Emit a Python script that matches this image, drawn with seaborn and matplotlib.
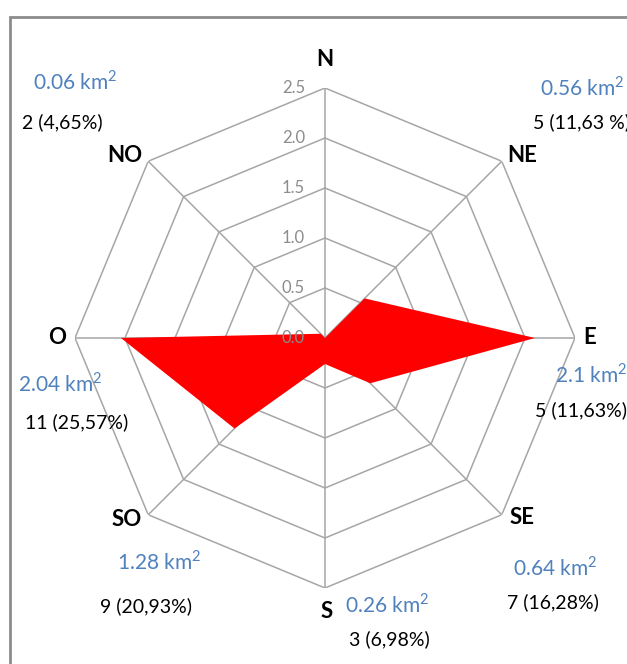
import numpy as np
import matplotlib.pyplot as plt
import matplotlib.patches as mpatches
import seaborn as sns

# data
directions = ["N", "NE", "E", "SE", "S", "SO", "O", "NO"]
areas = [0.0, 0.56, 2.1, 0.64, 0.26, 1.28, 2.04, 0.06]
area_labels = ["", "0.56", "2.1", "0.64", "0.26", "1.28", "2.04", "0.06"]
count_labels = ["", "5 (11,63 %)", "5 (11,63%)", "7 (16,28%)", "3 (6,98%)", "9 (20,93%)", "11 (25,57%)", "2 (4,65%)"]
rings = [0.5, 1.0, 1.5, 2.0, 2.5]
ring_labels = ["0.0", "0.5", "1.0", "1.5", "2.0", "2.5"]

sns.set_theme(style="white")
plt.rcParams["font.family"] = ["Lato", "DejaVu Sans"]
plt.rcParams["mathtext.fontset"] = "custom"
plt.rcParams["mathtext.rm"] = "Lato"

W, H = 627, 664
fig = plt.figure(figsize=(W / 100, H / 100), dpi=100)
ax = fig.add_axes([75 / W, (H - 338 - 250) / H, 500 / W, 500 / H], projection="polar")
ax.set_theta_zero_location("N")
ax.set_theta_direction(-1)
ax.set_ylim(0, 2.5)
ax.grid(False)
ax.set_xticks([])
ax.set_yticks([])
ax.spines["polar"].set_visible(False)
ax.set_facecolor("none")

theta = np.linspace(0, 2 * np.pi, len(directions), endpoint=False)
theta_c = np.append(theta, theta[0])

grid_col = "#a6a6a6"
# octagon rings (straight segments)
for r in rings:
    ax.plot(theta_c, [r] * len(theta_c), color=grid_col, lw=1.1, zorder=1)
# spokes
for t in theta:
    ax.plot([t, t], [0, rings[-1]], color=grid_col, lw=1.1, zorder=1)

# red area
vals = np.append(areas, areas[0])
ax.fill(theta_c, vals, color="#ff0000", lw=0, zorder=2)

# radial tick labels along N axis
for i, lab in enumerate(ring_labels):
    ax.annotate(lab, xy=(0, i * 0.5), xytext=(-20, 0), textcoords="offset pixels",
                ha="right", va="center", color="#8c8c8c", fontsize=12, zorder=3)

# direction labels
dir_pos = [(325, 60), (522, 155), (590, 338), (522, 518), (327, 612), (127, 520), (57, 338), (125, 155)]
for name, (x, y) in zip(directions, dir_pos):
    fig.text(x / W, 1 - y / H, name, ha="center", va="center", fontsize=16,
             fontweight="bold", color="black")

# annotations: area (blue) and count (black)
area_pos = [None, (540, 88), (555, 375), (513, 568), (345, 605), (117, 562), (18, 384), (33, 82)]
count_pos = [None, (533, 122), (535, 410), (507, 602), (349, 639), (100, 606), (25, 422), (22, 122)]
for a, c, pa, pc in zip(area_labels, count_labels, area_pos, count_pos):
    if pa is None:
        continue
    fig.text(pa[0] / W, 1 - pa[1] / H, a + r" km$^{2}$", ha="left", va="center",
             fontsize=15, color="#4f81bd")
    fig.text(pc[0] / W, 1 - pc[1] / H, c, ha="left", va="center", fontsize=14, color="black")

# chart border
fig.patches.append(mpatches.Rectangle((10 / W, -0.1), 1.2, 1 - 17 / H + 0.1,
                                      transform=fig.transFigure, fill=False,
                                      edgecolor="#8c8c8c", lw=2))

fig.savefig("out.png", dpi=100)
